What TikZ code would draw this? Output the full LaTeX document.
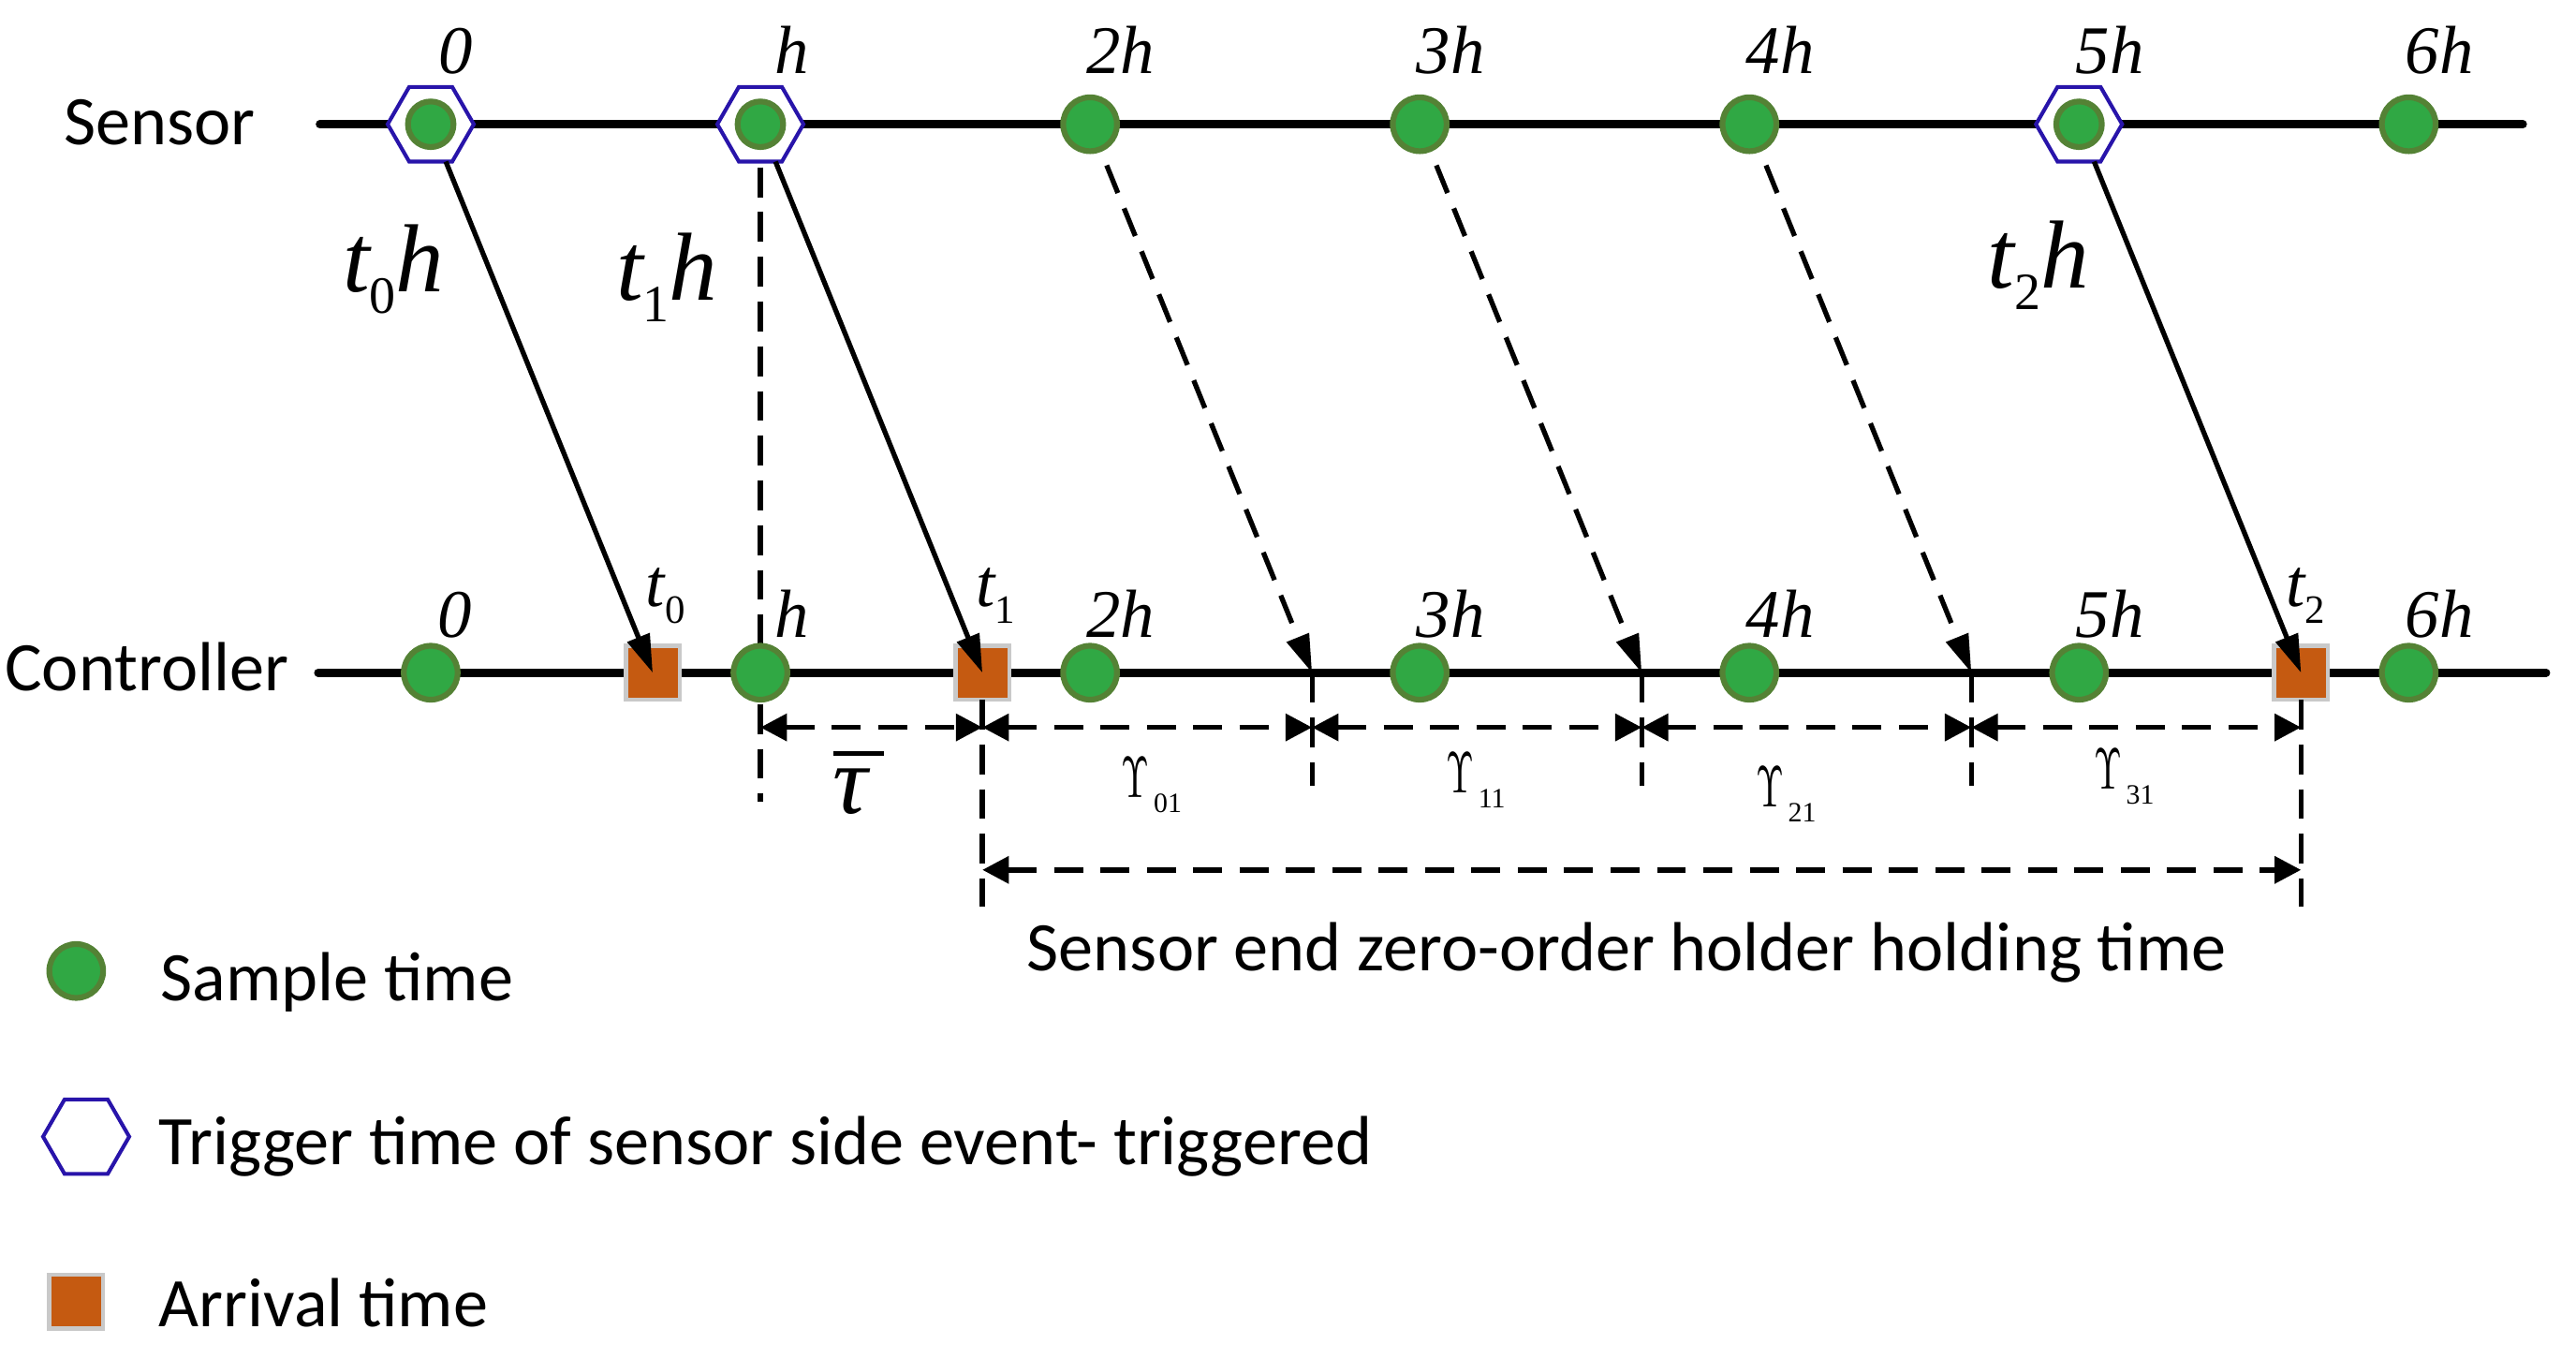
\documentclass[tikz,border=0pt]{standalone}
\usepackage{fontspec}
\usepackage{graphicx}
\setmainfont{Carlito}
\newfontfamily\tms{Liberation Serif}
\usetikzlibrary{shapes.geometric,arrows.meta}
\definecolor{sgreen}{RGB}{48,168,68}
\definecolor{sedge}{RGB}{84,130,53}
\definecolor{hexblue}{RGB}{40,20,170}
\definecolor{aorange}{RGB}{197,90,17}
\definecolor{agray}{RGB}{201,201,201}
\newcommand\upsl[1]{\scalebox{0.62}[1]{\fontsize{10.4}{11}\selectfont$\Upsilon$}\kern0.25mm\raisebox{-0.9mm}{\tms\fontsize{4.8}{5}\selectfont #1}}
\newcommand\bigth[1]{{\tms\itshape\fontsize{16.6}{18}\selectfont t}\raisebox{-1.3mm}{\tms\fontsize{9}{10}\selectfont #1}{\tms\itshape\fontsize{16.6}{18}\selectfont h}}
\newcommand\ctt[1]{{\tms\itshape\fontsize{11.7}{12}\selectfont t}\raisebox{-1mm}{\tms\fontsize{6.9}{7}\selectfont #1}}
\newcommand\taubar{\vbox{\hrule height 0.26mm width 3.05mm\kern0.8mm\hbox{\tms\itshape\fontsize{16.7}{17}\selectfont τ}}}
\begin{document}
\begin{tikzpicture}[x=0.1mm,y=-0.1mm,
  samp/.style={circle, fill=sgreen, draw=sedge, line width=0.35mm, minimum size=3.25mm, inner sep=0, outer sep=0},
  sampin/.style={samp, minimum size=2.75mm},
  trig/.style={regular polygon, regular polygon sides=6, draw=hexblue, fill=white, line width=0.23mm, minimum size=5.2mm, inner sep=0, outer sep=0},
  arrv/.style={rectangle, fill=aorange, draw=agray, line width=0.25mm, minimum size=3.25mm, inner sep=0, outer sep=0},
  axisline/.style={line width=0.48mm, line cap=round},
  msg/.style={line width=0.3mm, -{Triangle[length=2.3mm,width=1.4mm]}},
  lost/.style={msg, dash pattern=on 1.8mm off 1mm},
  vdash/.style={line width=0.3mm, dash pattern=on 1.8mm off 0.9mm},
  dimline/.style={line width=0.32mm, dash pattern=on 1.75mm off 1.05mm, {Triangle[length=1.6mm,width=1.6mm]}-{Triangle[length=1.6mm,width=1.6mm]}},
  lab/.style={inner sep=0, outer sep=0, anchor=base west},
  mlab/.style={lab, font=\tms\itshape\fontsize{11.7}{12}\selectfont},
  txt/.style={lab, font=\fontsize{11.95}{13}\selectfont}
]
\fill[white] (0,0) rectangle (1555,820);
\useasboundingbox (0,0) rectangle (1555,820);

% vertical dashed at h
\coordinate (vh1) at (459,101);
\coordinate (vh2) at (459,484);
\draw[vdash] (vh1) -- (vh2);

% axes
\coordinate (sL) at (193,75); \coordinate (sR) at (1523,75);
\coordinate (cL) at (192,406); \coordinate (cR) at (1537,406);
\draw[axisline] (sL) -- (sR);
\draw[axisline] (cL) -- (cR);

% sensor samples
\foreach \n/\x in {2/658,3/857,4/1056,6/1454} \node[samp] (s\n) at (\x,75) {};
\foreach \n/\x in {0/260,1/459,5/1255} {
  \node[trig] (e\n) at (\x,75) {};
  \node[sampin] (s\n) at (\x,75) {};
}
% controller samples
\foreach \n/\x in {0/260,1/459,2/658,3/857,4/1056,5/1255,6/1454} \node[samp] (c\n) at (\x,406) {};
% arrivals
\node[arrv] (q0) at (394,406) {};
\node[arrv] (q1) at (593,406) {};
\node[arrv] (q5) at (1389,406) {};

% ticks and verticals
\coordinate (q1e) at (593,547);
\coordinate (q5e) at (1389,547);
\draw[vdash] (q1.south) -- (q1e);
\draw[vdash] (q5.south) -- (q5e);
\foreach \n/\x in {2/792,3/991,4/1190} {
  \coordinate (k\n) at (\x,406);
  \coordinate (kb\n) at (\x,474);
  \draw[vdash] (k\n) -- (kb\n);
}

% dimension lines
\coordinate (d0) at (459,439);
\coordinate (d1) at (593,439);
\coordinate (d2) at (792,439);
\coordinate (d3) at (991,439);
\coordinate (d4) at (1190,439);
\coordinate (d5) at (1389,439);
\coordinate (b1) at (593,525);
\coordinate (b5) at (1389,525);
\draw[dimline] (d0) -- (d1);
\draw[dimline] (d1) -- (d2);
\draw[dimline] (d2) -- (d3);
\draw[dimline] (d3) -- (d4);
\draw[dimline] (d4) -- (d5);
\draw[dimline] (b1) -- (b5);

% transmissions
\draw[msg] (e0) -- (q0.center);
\draw[msg] (e1) -- (q1.center);
\draw[msg] (e5) -- (q5.center);
\draw[lost, shorten <=1.05mm] (s2) -- (k2);
\draw[lost, shorten <=1.05mm] (s3) -- (k3);
\draw[lost, shorten <=1.05mm] (s4) -- (k4);

% time labels
\foreach \n/\x/\t in {0/265/0,1/468/h,2/656/2h,3/855/3h,4/1054/4h,5/1253/5h,6/1452/6h}
  \node[mlab] (sl\n) at (\x,44.5) {\t};
\foreach \n/\x/\t in {0/264/0,1/468/h,2/656/2h,3/855/3h,4/1054/4h,5/1253/5h,6/1452/6h}
  \node[mlab] (cl\n) at (\x,384.5) {\t};
\node[lab] (ta0) at (390,366) {\ctt{0}};
\node[lab] (ta1) at (589,366) {\ctt{1}};
\node[lab] (ta2) at (1380,366) {\ctt{2}};
\node[lab] (th0) at (207,176) {\bigth{0}};
\node[lab] (th1) at (372,181) {\bigth{1}};
\node[lab] (th2) at (1200,174) {\bigth{2}};

% interval labels
\node[lab] (tau) at (503,491) {\taubar};
\node[lab] (u0) at (677,481.5) {\upsl{01}};
\node[lab] (u1) at (873,478.6) {\upsl{11}};
\node[lab] (u2) at (1060,487) {\upsl{21}};
\node[lab] (u3) at (1264,476) {\upsl{31}};

% row names
\node[txt] (sensorlab) at (38.5,87.6) {Sensor};
\node[txt] (ctrllab) at (3,416.6) {Controller};
\node[txt] (holdlab) at (620,585.6) {Sensor end zero-order holder holding time};

% legend
\node[samp] (lg1) at (46,586) {};
\node[trig] (lg2) at (52,686) {};
\node[arrv] (lg3) at (46,785.5) {};
\node[txt] (lt1) at (97,604) {Sample time};
\node[txt] (lt2) at (96,703) {Trigger time of sensor side event- triggered};
\node[txt] (lt3) at (96,800.5) {Arrival time};
\end{tikzpicture}
\end{document}
